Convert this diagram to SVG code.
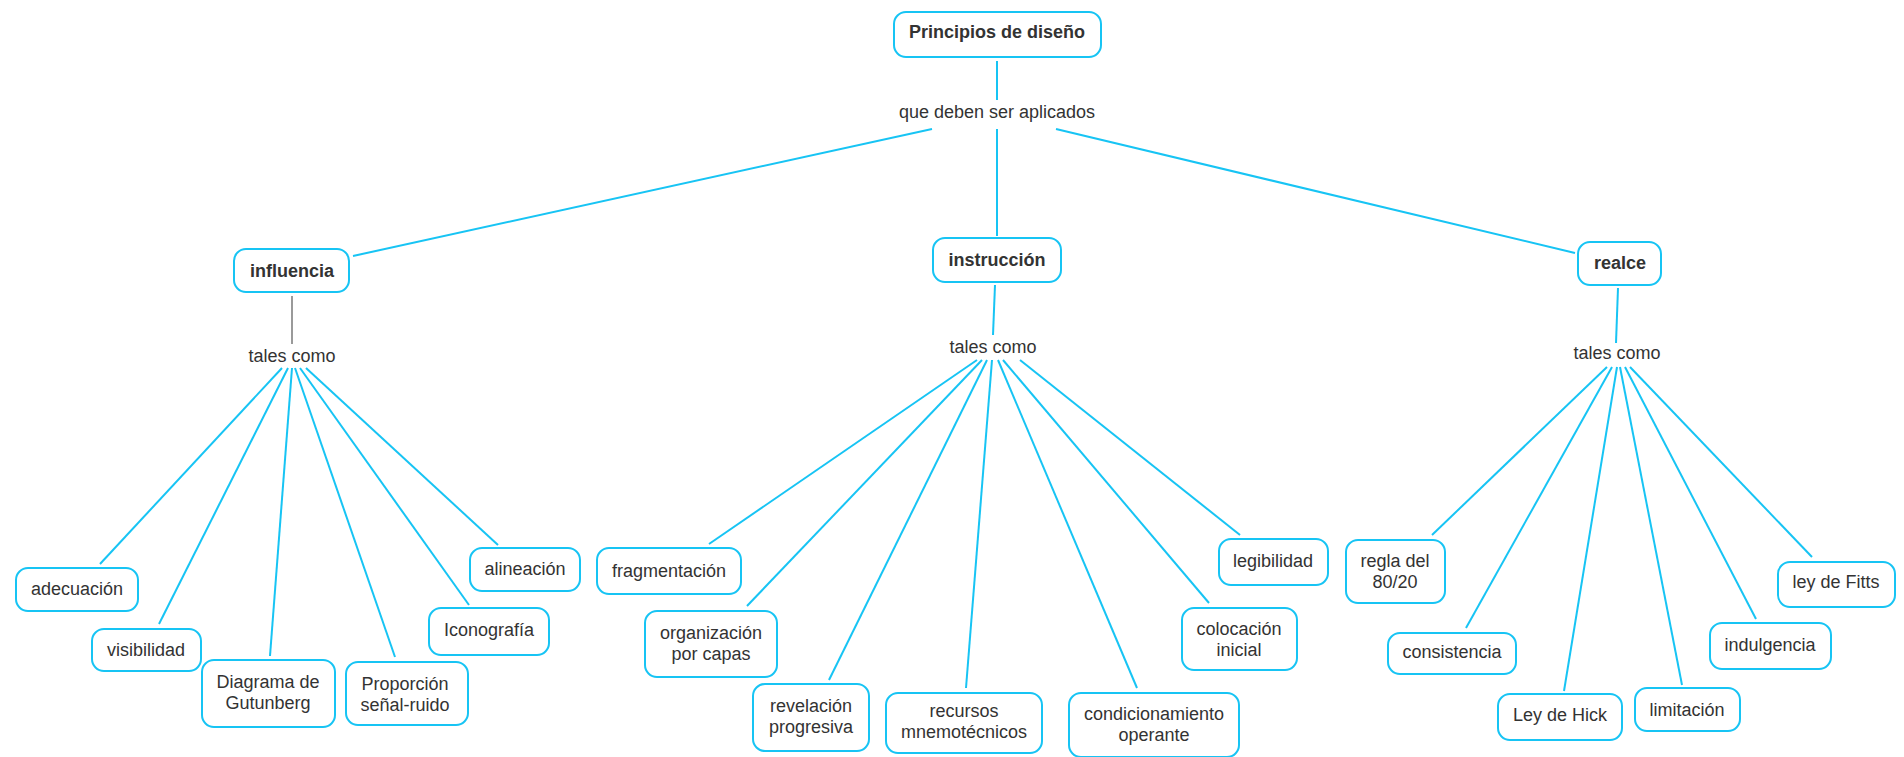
<svg xmlns="http://www.w3.org/2000/svg" width="1904" height="757" viewBox="0 0 1904 757">
  <style>
    .box { fill: #ffffff; stroke: #17c4f4; stroke-width: 2; }
    .link { stroke: #17c4f4; stroke-width: 2; fill: none; }
    .gray { stroke: #9a9a9a; stroke-width: 2; fill: none; }
    text { font-family: "Liberation Sans", Arial, sans-serif; font-size: 18px; fill: #333333; text-anchor: middle; }
    .b { font-weight: bold; }
  </style>
  <rect width="1904" height="757" fill="#ffffff"/>

  <!-- connectors -->
  <g id="connectors">
    <line class="link" x1="997" y1="61" x2="997" y2="100"/>
    <line class="link" x1="932" y1="129" x2="353" y2="256"/>
    <line class="link" x1="997" y1="129" x2="997" y2="236"/>
    <line class="link" x1="1056" y1="129" x2="1575" y2="253"/>
    <line class="gray" x1="292" y1="296" x2="292" y2="344"/>
    <line class="link" x1="995" y1="285" x2="993" y2="335"/>
    <line class="link" x1="1618" y1="288" x2="1616" y2="343"/>
    <!-- influencia -->
    <line class="link" x1="282" y1="368" x2="100" y2="564"/>
    <line class="link" x1="288" y1="368" x2="159" y2="624"/>
    <line class="link" x1="292" y1="368" x2="270" y2="656"/>
    <line class="link" x1="295" y1="368" x2="395" y2="657"/>
    <line class="link" x1="300" y1="368" x2="469" y2="605"/>
    <line class="link" x1="306" y1="368" x2="498" y2="545"/>
    <!-- instrucción -->
    <line class="link" x1="977" y1="360" x2="709" y2="544"/>
    <line class="link" x1="982" y1="360" x2="747" y2="606"/>
    <line class="link" x1="987" y1="360" x2="829" y2="680"/>
    <line class="link" x1="992" y1="360" x2="966" y2="688"/>
    <line class="link" x1="998" y1="360" x2="1137" y2="688"/>
    <line class="link" x1="1003" y1="360" x2="1209" y2="603"/>
    <line class="link" x1="1020" y1="360" x2="1240" y2="535"/>
    <!-- realce -->
    <line class="link" x1="1607" y1="367" x2="1432" y2="535"/>
    <line class="link" x1="1612" y1="367" x2="1466" y2="628"/>
    <line class="link" x1="1617" y1="367" x2="1564" y2="691"/>
    <line class="link" x1="1620" y1="367" x2="1682" y2="685"/>
    <line class="link" x1="1625" y1="367" x2="1756" y2="619"/>
    <line class="link" x1="1630" y1="367" x2="1812" y2="557"/>
  </g>

  <!-- main nodes -->
  <g id="principios">
    <rect class="box" x="894" y="12" width="207" height="45" rx="12"/>
    <text class="b" x="997" y="38">Principios de diseño</text>
  </g>
  <g id="aplicados">
    <text x="997" y="118">que deben ser aplicados</text>
  </g>
  <g id="influencia">
    <rect class="box" x="234" y="249" width="115" height="43" rx="12"/>
    <text class="b" x="292" y="277">influencia</text>
  </g>
  <g id="instruccion">
    <rect class="box" x="933" y="238" width="128" height="44" rx="12"/>
    <text class="b" x="997" y="266">instrucción</text>
  </g>
  <g id="realce">
    <rect class="box" x="1578" y="242" width="83" height="43" rx="12"/>
    <text class="b" x="1620" y="269">realce</text>
  </g>
  <g id="tales-influencia"><text x="292" y="362">tales como</text></g>
  <g id="tales-instruccion"><text x="993" y="353">tales como</text></g>
  <g id="tales-realce"><text x="1617" y="359">tales como</text></g>

  <!-- influencia leaves -->
  <g id="adecuacion">
    <rect class="box" x="16" y="568" width="122" height="43" rx="12"/>
    <text x="77" y="595">adecuación</text>
  </g>
  <g id="visibilidad">
    <rect class="box" x="92" y="629" width="109" height="42" rx="12"/>
    <text x="146" y="656">visibilidad</text>
  </g>
  <g id="gutunberg">
    <rect class="box" x="202" y="660" width="133" height="67" rx="12"/>
    <text x="268" y="688">Diagrama de</text>
    <text x="268" y="709">Gutunberg</text>
  </g>
  <g id="proporcion">
    <rect class="box" x="346" y="662" width="122" height="63" rx="12"/>
    <text x="405" y="690">Proporción</text>
    <text x="405" y="711">señal-ruido</text>
  </g>
  <g id="iconografia">
    <rect class="box" x="429" y="608" width="120" height="47" rx="12"/>
    <text x="489" y="636">Iconografía</text>
  </g>
  <g id="alineacion">
    <rect class="box" x="470" y="548" width="110" height="43" rx="12"/>
    <text x="525" y="575">alineación</text>
  </g>

  <!-- instrucción leaves -->
  <g id="fragmentacion">
    <rect class="box" x="597" y="548" width="144" height="46" rx="12"/>
    <text x="669" y="577">fragmentación</text>
  </g>
  <g id="organizacion">
    <rect class="box" x="645" y="611" width="132" height="66" rx="12"/>
    <text x="711" y="639">organización</text>
    <text x="711" y="660">por capas</text>
  </g>
  <g id="revelacion">
    <rect class="box" x="753" y="684" width="116" height="67" rx="12"/>
    <text x="811" y="712">revelación</text>
    <text x="811" y="733">progresiva</text>
  </g>
  <g id="recursos">
    <rect class="box" x="886" y="693" width="156" height="60" rx="12"/>
    <text x="964" y="717">recursos</text>
    <text x="964" y="738">mnemotécnicos</text>
  </g>
  <g id="condicionamiento">
    <rect class="box" x="1069" y="693" width="170" height="64" rx="12"/>
    <text x="1154" y="720">condicionamiento</text>
    <text x="1154" y="741">operante</text>
  </g>
  <g id="colocacion">
    <rect class="box" x="1182" y="608" width="115" height="62" rx="12"/>
    <text x="1239" y="635">colocación</text>
    <text x="1239" y="656">inicial</text>
  </g>
  <g id="legibilidad">
    <rect class="box" x="1219" y="539" width="109" height="46" rx="12"/>
    <text x="1273" y="567">legibilidad</text>
  </g>

  <!-- realce leaves -->
  <g id="regla">
    <rect class="box" x="1346" y="540" width="99" height="63" rx="12"/>
    <text x="1395" y="567">regla del</text>
    <text x="1395" y="588">80/20</text>
  </g>
  <g id="consistencia">
    <rect class="box" x="1388" y="633" width="128" height="41" rx="12"/>
    <text x="1452" y="658">consistencia</text>
  </g>
  <g id="hick">
    <rect class="box" x="1498" y="694" width="124" height="46" rx="12"/>
    <text x="1560" y="721">Ley de Hick</text>
  </g>
  <g id="limitacion">
    <rect class="box" x="1635" y="688" width="105" height="43" rx="12"/>
    <text x="1687" y="716">limitación</text>
  </g>
  <g id="indulgencia">
    <rect class="box" x="1710" y="623" width="121" height="46" rx="12"/>
    <text x="1770" y="651">indulgencia</text>
  </g>
  <g id="fitts">
    <rect class="box" x="1778" y="562" width="117" height="45" rx="12"/>
    <text x="1836" y="588">ley de Fitts</text>
  </g>
</svg>
